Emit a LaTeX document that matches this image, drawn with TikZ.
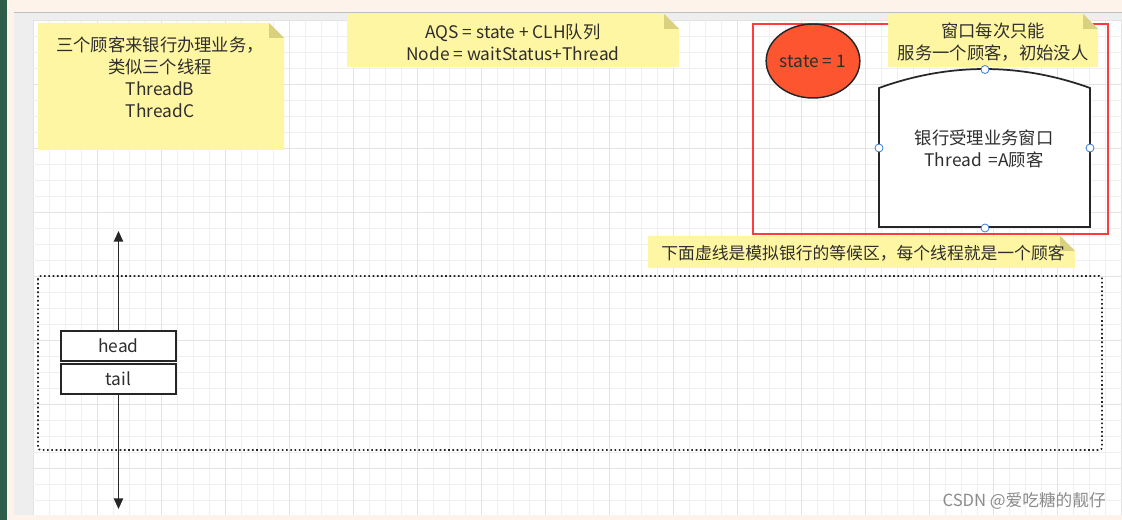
\documentclass[tikz,border=0pt]{standalone}
\usepackage{fontspec}
\setmainfont{Noto Sans CJK SC}
\usetikzlibrary{arrows.meta,shapes.geometric}
\definecolor{peach}{HTML}{FDF3EB}
\definecolor{uigray}{HTML}{EEEEEE}
\definecolor{gridc}{HTML}{EFEFEF}
\definecolor{gridm}{HTML}{E3E3E3}
\definecolor{notey}{HTML}{FFF6A3}
\definecolor{foldy}{HTML}{D9D180}
\definecolor{txt}{HTML}{2E2E2E}
\definecolor{redbox}{HTML}{FF3B3B}
\definecolor{statefill}{HTML}{FC5530}
\definecolor{handle}{HTML}{3A7BD5}
\definecolor{sidegreen}{HTML}{2E5E4A}
\tikzset{
  notetext/.style={align=center,text=txt,font=\fontsize{13}{16.5}\selectfont,inner sep=0pt},
  stdtext/.style={align=center,text=txt,font=\fontsize{13}{16.5}\selectfont,inner sep=0pt},
  qbox/.style={draw=black!85,line width=1.3pt,fill=white,minimum width=86.25pt,minimum height=22.5pt,inner sep=0pt,text=txt,font=\fontsize{13}{14}\selectfont},
  arr/.style={draw=black!85,line width=1.1pt,-{Triangle[length=8pt,width=7pt]}},
  hnd/.style={circle,draw=handle,fill=white,line width=0.6pt,minimum size=6pt,inner sep=0pt}
}
\newcommand\mynote[4]{% x1,y1,x2,y2
  \fill[notey] (#1,#2) -- ({#3-15},#2) -- (#3,{#2+15}) -- (#3,#4) -- (#1,#4) -- cycle;
  \fill[foldy] ({#3-15},#2) -- ({#3-15},{#2+15}) -- (#3,{#2+15}) -- cycle;
}
\begin{document}
\begin{tikzpicture}[x=0.75pt,y=-0.75pt]
\useasboundingbox (0,0) rectangle (1122,520);
% UI frame
\fill[peach] (0,0) rectangle (1122,520);
\fill[sidegreen] (0,0) rectangle (7,520);
\fill[uigray] (14,12) rectangle (1122,515);
\draw[black!25,line width=0.6pt] (14,12) -- (1122,12);
\fill[white] (33,20) rectangle (1122,515);
% grid
\foreach \i in {0,...,68} {
  \pgfmathtruncatemacro\m{mod(\i,4)}
  \ifnum\m=0 \draw[gridm,line width=0.6pt] ({33+16*\i},20) -- ({33+16*\i},515);
  \else \draw[gridc,line width=0.5pt] ({33+16*\i},20) -- ({33+16*\i},515); \fi
}
\foreach \j in {0,...,30} {
  \pgfmathtruncatemacro\m{mod(\j,4)}
  \ifnum\m=0 \draw[gridm,line width=0.6pt] (33,{20+16*\j}) -- (1122,{20+16*\j});
  \else \draw[gridc,line width=0.5pt] (33,{20+16*\j}) -- (1122,{20+16*\j}); \fi
}
% notes
\mynote{38}{23}{284}{150}
\node[notetext] (n1) at (160,77) {三个顾客来银行办理业务，\\类似三个线程\\ThreadB\\ThreadC};
\mynote{347}{14}{679}{67}
\node[notetext] (n2) at (513,42) {AQS = state + CLH队列\\Node = waitStatus+Thread};
% red frame
\draw[redbox,line width=1.2pt] (753,24) rectangle (1108,234);
\mynote{888}{14}{1098}{67}
\node[notetext] (n3) at (993,42) {窗口每次只能\\服务一个顾客，初始没人};
% state ellipse
\node[ellipse,draw=black!85,line width=1.1pt,fill=statefill,minimum width=64.5pt,minimum height=55.5pt,inner sep=0pt,text=txt,font=\fontsize{13}{14}\selectfont] (st) at (813,61) {state = 1};
% window shape
\draw[black!85,line width=1.3pt,fill=white] (879,227) -- (879,88) .. controls (949,62.7) and (1020,62.7) .. (1090,88) -- (1090,227) -- cycle;
\node[stdtext] (win) at (984,149) {银行受理业务窗口\\Thread \,=A顾客};
\node[hnd] (h1) at (985,69.5) {};
\node[hnd] (h2) at (879,148) {};
\node[hnd] (h3) at (1090,148) {};
\node[hnd] (h4) at (985,228) {};
% waiting note
\mynote{648}{236}{1075}{268}
\node[notetext,font=\fontsize{12.6}{15}\selectfont] (n4) at (863,253) {下面虚线是模拟银行的等候区，每个线程就是一个顾客};
% dotted waiting area
\draw[black!85,line width=1.2pt,dotted,rounded corners=2pt] (38,276) rectangle (1102,450);
% head/tail
\node[qbox] (head) at (118.5,346) {head};
\node[qbox] (tail) at (118.5,379) {tail};
\coordinate (up) at (118.5,231);
\coordinate (down) at (118.5,509);
\draw[arr] (head.north) -- (up);
\draw[arr] (tail.south) -- (down);
% watermark
\node[text=black!45,font=\fontsize{12.5}{14}\selectfont,anchor=east,inner sep=0pt] (wm) at (1106,501) {CSDN @爱吃糖的靓仔};
\end{tikzpicture}
\end{document}
